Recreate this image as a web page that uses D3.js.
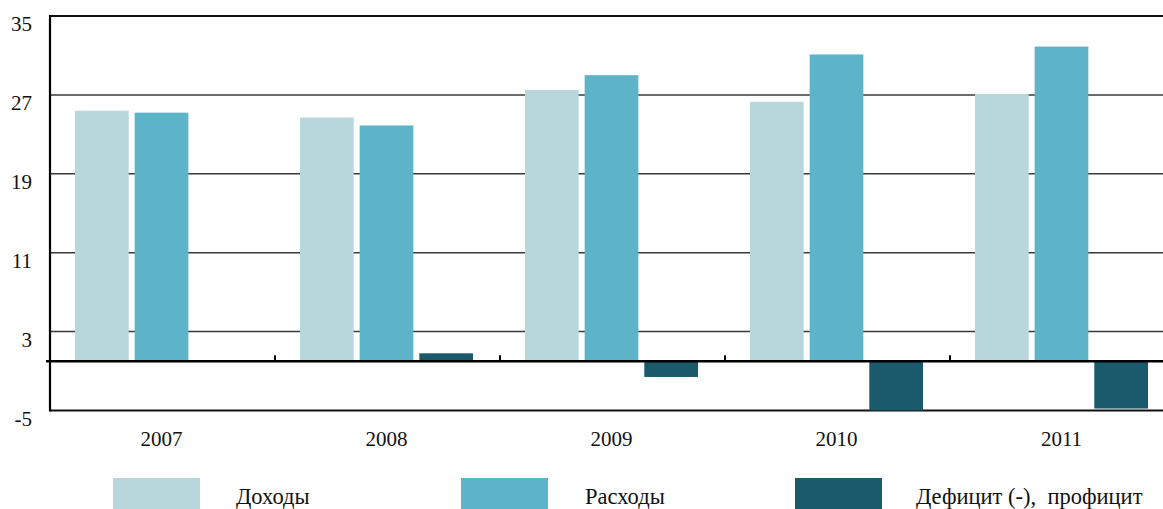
<!DOCTYPE html>
<html><head><meta charset="utf-8">
<script src="https://cdn.jsdelivr.net/npm/d3@7/dist/d3.min.js"></script>
<style>body{margin:0;background:#fff}svg{display:block}text{font-family:"Liberation Serif","Times New Roman",serif;fill:#111;white-space:pre}</style>
</head><body><svg id="c" width="1163" height="509"></svg>
<script>
const years = ["2007","2008","2009","2010","2011"];
const revenues = [25.4, 24.7, 27.5, 26.3, 27.1];
const expenses = [25.2, 23.9, 29.0, 31.1, 31.9];
const balance = [0, 0.8, -1.6, -5.0, -4.8];
const seriesNames = ["Доходы", "Расходы", "Дефицит (-),  профицит"];
const colors = ["#b8d7dd", "#5db4c9", "#1b5a6b"];
const yTicks = [-5, 3, 11, 19, 27, 35];

const svg = d3.select("#c");
const W = 1163;
const x = d3.scaleBand().domain(years).range([50, 1175]).paddingInner(0).paddingOuter(0);
const y = d3.scaleLinear().domain([-5, 35]).range([410.5, 16]);
const inner = d3.scaleBand().domain([0,1,2]).range([25, 198]).paddingInner(0.1);

// gridlines
svg.append("g").selectAll("line").data([3, 11, 19, 27]).join("line")
  .attr("x1", 50).attr("x2", W).attr("y1", d => y(d)).attr("y2", d => y(d))
  .attr("stroke", "#3a3a3a").attr("stroke-width", 1.5);
// top border
svg.append("line").attr("x1", 50).attr("x2", W).attr("y1", y(35)).attr("y2", y(35))
  .attr("stroke", "#111").attr("stroke-width", 2);
// bottom line
svg.append("line").attr("x1", 50).attr("x2", W).attr("y1", y(-5)).attr("y2", y(-5))
  .attr("stroke", "#111").attr("stroke-width", 1.8);

const series = [revenues, expenses, balance];
series.forEach((vals, si) => {
  svg.append("g").selectAll("rect").data(vals.map((v, i) => ({v, yr: years[i]}))).join("rect")
    .attr("x", d => x(d.yr) + inner(si))
    .attr("width", inner.bandwidth())
    .attr("y", d => y(Math.max(0, d.v)))
    .attr("height", d => Math.abs(y(d.v) - y(0)))
    .attr("fill", colors[si]);
});

// zero axis
svg.append("line").attr("x1", 46).attr("x2", W).attr("y1", y(0)).attr("y2", y(0))
  .attr("stroke", "#000").attr("stroke-width", 2.6);
svg.append("g").selectAll("line").data(years.slice(1)).join("line")
  .attr("x1", d => x(d)).attr("x2", d => x(d)).attr("y1", y(0)).attr("y2", y(0) - 6)
  .attr("stroke", "#000").attr("stroke-width", 2);
// left axis
svg.append("line").attr("x1", 50).attr("x2", 50).attr("y1", y(35) - 1).attr("y2", y(-5) + 1)
  .attr("stroke", "#000").attr("stroke-width", 2.2);

// y tick labels
svg.append("g").selectAll("text").data(yTicks).join("text")
  .attr("x", 32).attr("y", d => y(d) + 15).attr("text-anchor", "end")
  .attr("font-size", 21).text(d => d);

// x labels
svg.append("g").selectAll("text").data(years).join("text")
  .attr("x", d => x(d) + x.bandwidth() / 2 - 1).attr("y", 446).attr("text-anchor", "middle")
  .attr("font-size", 21).text(d => d);

// legend
const legX = [113, 461, 795];
const legTX = [236, 585, 916];
const lg = svg.append("g");
seriesNames.forEach((n, i) => {
  lg.append("rect").attr("x", legX[i]).attr("y", 478).attr("width", 87).attr("height", 31).attr("fill", colors[i]);
  lg.append("text").attr("x", legTX[i]).attr("y", 504).attr("font-size", 22.5).text(n);
});
</script></body></html>
